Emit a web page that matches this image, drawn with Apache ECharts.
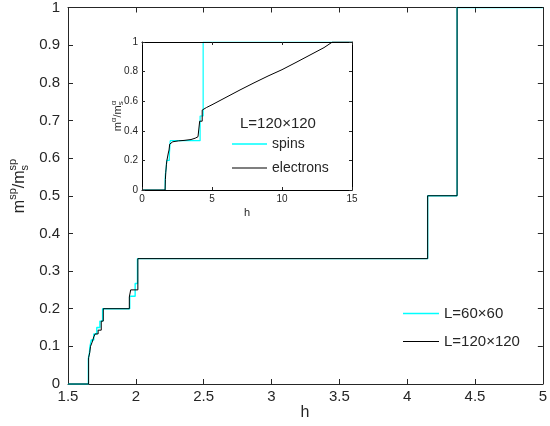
<!DOCTYPE html>
<html>
<head>
<meta charset="utf-8">
<script src="https://cdn.jsdelivr.net/npm/echarts@6/dist/echarts.min.js"></script>
<style>html,body{margin:0;padding:0;background:#fff}#c{width:550px;height:426px}</style>
</head>
<body>
<div id="c"></div>
<script>
// ---- Main plot data ----
const h60  = [1.5, 1.650, 1.650, 1.658, 1.662, 1.672, 1.672, 1.690, 1.690, 1.712, 1.712, 1.735, 1.735, 1.755, 1.755, 1.955, 1.955, 1.995, 1.995, 2.012, 2.012, 4.151, 4.151, 4.368, 4.368, 5.0];
const m60  = [0,   0,     0.067, 0.083, 0.100, 0.100, 0.117, 0.117, 0.133, 0.133, 0.150, 0.150, 0.167, 0.167, 0.200, 0.200, 0.233, 0.233, 0.267, 0.267, 0.333, 0.333, 0.500, 0.500, 1.000, 1.0];
const h120 = [1.5, 1.652, 1.652, 1.660, 1.666, 1.666, 1.678, 1.678, 1.690, 1.690, 1.700, 1.722, 1.722, 1.745, 1.745, 1.760, 1.760, 1.952, 1.952, 1.962, 1.962, 2.015, 2.015, 4.151, 4.151, 4.368, 4.368, 5.0];
const m120 = [0,   0,     0.070, 0.083, 0.083, 0.100, 0.100, 0.111, 0.111, 0.125, 0.133, 0.133, 0.143, 0.143, 0.167, 0.167, 0.200, 0.200, 0.231, 0.231, 0.250, 0.250, 0.333, 0.333, 0.500, 0.500, 1.000, 1.0];
// ---- Inset data (L=120x120) ----
const hSpins = [0, 1.652, 1.652, 1.660, 1.666, 1.666, 1.678, 1.678, 1.690, 1.690, 1.700, 1.722, 1.722, 1.745, 1.745, 1.760, 1.760, 1.952, 1.952, 1.962, 1.962, 2.015, 2.015, 4.151, 4.151, 4.368, 4.368, 15];
const mSpins = [0, 0,     0.070, 0.083, 0.083, 0.100, 0.100, 0.111, 0.111, 0.125, 0.133, 0.133, 0.143, 0.143, 0.167, 0.167, 0.200, 0.200, 0.231, 0.231, 0.250, 0.250, 0.333, 0.333, 0.500, 0.500, 1.000, 1];
const hElec = [0, 1.65, 1.67, 1.70, 1.74, 1.78, 1.80, 1.86, 1.88, 1.93, 1.98, 2.05, 2.2,   2.6,   3.0,   3.5,   3.8,  4.0,  4.12,  4.12,  4.30,  4.30, 4.6,   5.0,   6.0,   7.0,   8.0,   9.0,   10.0,  11.0,  12.0,  13.0,  13.6, 15];
const mElec = [0, 0,    0.07, 0.12, 0.17, 0.20, 0.20, 0.20, 0.25, 0.27, 0.31, 0.318, 0.326, 0.332, 0.335, 0.341, 0.35, 0.36, 0.372, 0.465, 0.465, 0.54, 0.557, 0.576, 0.626, 0.676, 0.724, 0.770, 0.813, 0.862, 0.912, 0.962, 1.0, 1.0];

const names = ['L=60×60', 'L=120×120', 'spins', 'electrons'];
const CYAN = '#00ffff', BLACK = '#000000', AX = '#262626';
const FONT = '"Liberation Sans", Arial, sans-serif';

const pairs = (xs, ys) => xs.map((x, i) => [x, ys[i]]);

function axisBase(extra) {
  return Object.assign({
    type: 'value',
    splitLine: { show: false },
    axisLine: { show: true, onZero: false, lineStyle: { color: AX, width: 1 } },
    axisTick: { show: true, inside: true, length: 5, lineStyle: { color: AX } },
  }, extra);
}
function insetAxis(extra) {
  return axisBase(Object.assign({
    gridIndex: 1, z: 9,
    axisLine: { show: true, onZero: false, lineStyle: { color: '#000', width: 1 } },
    axisTick: { show: true, inside: true, length: 3, lineStyle: { color: AX } }
  }, extra));
}

// measure text for composed math labels
const mctx = document.createElement('canvas').getContext('2d');
function tw(t, s) { mctx.font = s + 'px ' + FONT; return mctx.measureText(t).width; }
function mathLabel(cx, cy, parts, rot) {
  let x = 0, items = [], pendingStack = null;
  parts.forEach(p => {
    const w = tw(p[0], p[1]);
    if (p[3]) { items.push({ t: p[0], s: p[1], dy: p[2], x: x }); pendingStack = w; return; }
    items.push({ t: p[0], s: p[1], dy: p[2], x: x });
    x += pendingStack !== null ? Math.max(w, pendingStack) : w;
    pendingStack = null;
  });
  const W = x;
  return {
    type: 'group', x: cx, y: cy, rotation: rot || 0, z: 10,
    children: items.map(it => ({
      type: 'text', x: it.x - W / 2, y: it.dy, z: 10,
      style: { text: it.t, fontSize: it.s, fontFamily: FONT, fill: AX,
               align: 'left', verticalAlign: 'middle', textAlign: 'left', textVerticalAlign: 'middle' }
    }))
  };
}

const chart = echarts.init(document.getElementById('c'), null, { renderer: 'canvas' });
const legendCommon = { orient: 'vertical', padding: 0, selectedMode: false, icon: 'rect', itemGap: 0 };
chart.setOption({
  animation: false,
  backgroundColor: '#ffffff',
  grid: [
    { left: 68, top: 6, width: 478, height: 378, show: true, backgroundColor: '#fff', borderWidth: 0 },
    { left: 142, top: 42, width: 210, height: 148, show: true, backgroundColor: '#fff', borderWidth: 0, z: 5 }
  ],
  xAxis: [
    axisBase({ gridIndex: 0, position: 'bottom', min: 1.5, max: 5, interval: 0.5,
      axisLabel: { margin: 5, fontSize: 15, fontFamily: FONT, color: AX } }),
    axisBase({ gridIndex: 0, position: 'top', min: 1.5, max: 5, interval: 0.5, axisLabel: { show: false } }),
    insetAxis({ position: 'bottom', min: 0, max: 15, interval: 5,
      axisLabel: { margin: 4, fontSize: 10, fontFamily: FONT, color: AX } }),
    insetAxis({ position: 'top', min: 0, max: 15, interval: 5, axisLabel: { show: false } })
  ],
  yAxis: [
    axisBase({ gridIndex: 0, position: 'left', min: 0, max: 1, interval: 0.1,
      axisLabel: { margin: 8, fontSize: 15, fontFamily: FONT, color: AX } }),
    axisBase({ gridIndex: 0, position: 'right', min: 0, max: 1, interval: 0.1, axisLabel: { show: false } }),
    insetAxis({ position: 'left', min: 0, max: 1, interval: 0.2,
      axisLabel: { margin: 4, fontSize: 10, fontFamily: FONT, color: AX } }),
    insetAxis({ position: 'right', min: 0, max: 1, interval: 0.2, axisLabel: { show: false } })
  ],
  legend: [
    Object.assign({ data: [names[0]], left: 403, top: 306, itemWidth: 36, itemHeight: 1.5,
      textStyle: { fontSize: 15, fontFamily: FONT, color: AX } }, legendCommon),
    Object.assign({ data: [names[1]], left: 403, top: 334, itemWidth: 36, itemHeight: 1,
      textStyle: { fontSize: 15, fontFamily: FONT, color: AX } }, legendCommon),
    Object.assign({ data: [names[2]], left: 232, top: 137, itemWidth: 35, itemHeight: 1.5, z: 10,
      textStyle: { fontSize: 14, fontFamily: FONT, color: AX } }, legendCommon),
    Object.assign({ data: [names[3]], left: 232, top: 161, itemWidth: 35, itemHeight: 1, z: 10,
      textStyle: { fontSize: 14, fontFamily: FONT, color: AX } }, legendCommon)
  ],
  series: [
    { name: names[0], type: 'line', xAxisIndex: 0, yAxisIndex: 0, data: pairs(h60, m60),
      showSymbol: false, color: CYAN, lineStyle: { color: CYAN, width: 1.4 }, z: 2 },
    { name: names[1], type: 'line', xAxisIndex: 0, yAxisIndex: 0, data: pairs(h120, m120),
      showSymbol: false, color: BLACK, lineStyle: { color: BLACK, width: 1 }, z: 3 },
    { name: names[2], type: 'line', xAxisIndex: 2, yAxisIndex: 2, data: pairs(hSpins, mSpins),
      showSymbol: false, color: CYAN, lineStyle: { color: CYAN, width: 1.2 }, z: 6 },
    { name: names[3], type: 'line', xAxisIndex: 2, yAxisIndex: 2, data: pairs(hElec, mElec),
      showSymbol: false, color: BLACK, lineStyle: { color: BLACK, width: 1 }, z: 7 }
  ],
  graphic: [
    { type: 'text', x: 305, y: 413, z: 10,
      style: { text: 'h', fontSize: 16, fontFamily: FONT, fill: AX, align: 'center', verticalAlign: 'middle', textAlign: 'center', textVerticalAlign: 'middle' } },
    { type: 'text', x: 247, y: 213, z: 10,
      style: { text: 'h', fontSize: 11, fontFamily: FONT, fill: AX, align: 'center', verticalAlign: 'middle', textAlign: 'center', textVerticalAlign: 'middle' } },
    { type: 'text', x: 240, y: 124, z: 10,
      style: { text: 'L=120×120', fontSize: 15, fontFamily: FONT, fill: AX, align: 'left', verticalAlign: 'middle', textAlign: 'left', textVerticalAlign: 'middle' } },
    mathLabel(20, 186, [['m', 16, 0], ['sp', 11, -7], ['/m', 16, 0], ['s', 11, 5, true], ['sp', 11, -7]], Math.PI / 2),
    mathLabel(118, 116, [['m', 11, 0], ['α', 8, -4], ['/m', 11, 0], ['s', 8, 3, true], ['α', 8, -4]], Math.PI / 2)
  ]
});
</script>
</body>
</html>
